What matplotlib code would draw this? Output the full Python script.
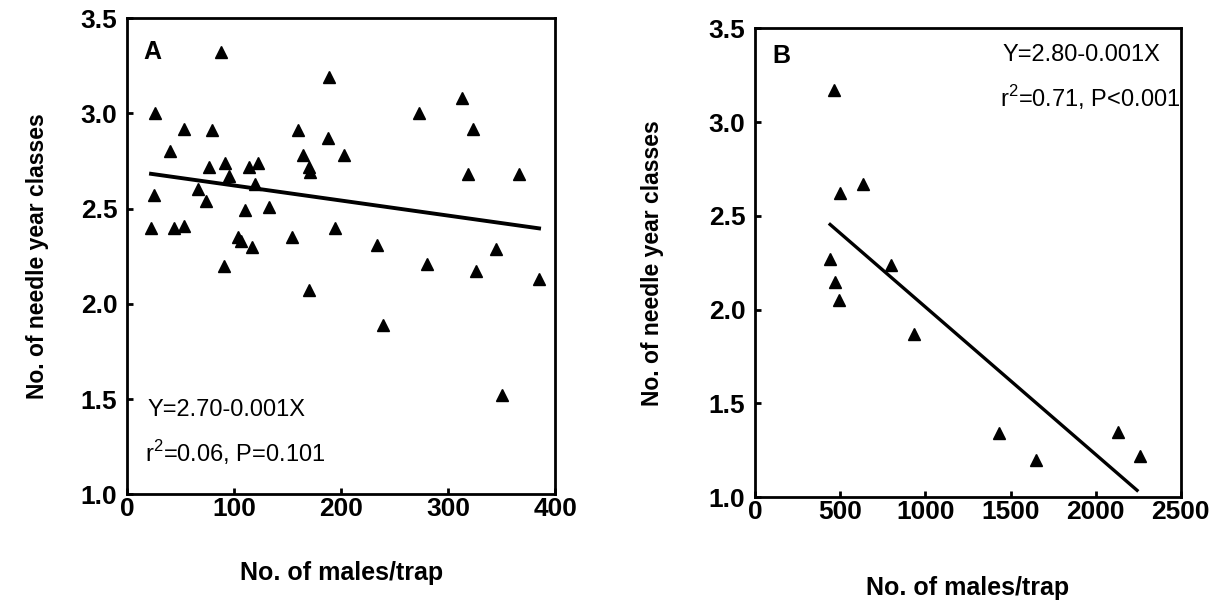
import numpy as np
import matplotlib
matplotlib.use("Agg")
import matplotlib.pyplot as plt

plt.rcParams['font.family'] = ['Liberation Sans', 'DejaVu Sans']
plt.rcParams['mathtext.fontset'] = 'custom'
plt.rcParams['mathtext.rm'] = 'Liberation Sans'

# panel A: males/trap vs needle year classes
a_x = [87.6, 188.8, 26.2, 53.3, 79.2, 160.1, 188.1, 40.2, 164.8, 203.1,
       76.9, 91.6, 114.3, 122.1, 170.1, 171.0, 95.6, 119.6, 25.2, 66.1,
       73.6, 133.0, 110.3, 22.4, 44.2, 53.6, 194.4, 104.0, 106.5, 116.5,
       154.5, 233.9, 90.9, 170.1, 239.3, 313.4, 272.9, 323.1, 318.4, 366.1,
       344.9, 280.1, 326.2, 385.0, 350.5]
a_y = [3.32, 3.19, 3.00, 2.92, 2.91, 2.91, 2.87, 2.80, 2.78, 2.78,
       2.72, 2.74, 2.72, 2.74, 2.72, 2.69, 2.67, 2.63, 2.57, 2.60,
       2.54, 2.51, 2.49, 2.40, 2.40, 2.41, 2.40, 2.35, 2.33, 2.30,
       2.35, 2.31, 2.20, 2.07, 1.89, 3.08, 3.00, 2.92, 2.68, 2.68,
       2.29, 2.21, 2.17, 2.13, 1.52]
a_fit = (2.70, -0.00079)   # intercept, slope as drawn

# panel B
b_x = [464, 499, 632, 440, 800, 471, 491, 933, 1432, 1647, 2133, 2259]
b_y = [3.17, 2.62, 2.67, 2.27, 2.24, 2.15, 2.05, 1.87, 1.34, 1.20, 1.35, 1.22]
b_fit = (2.80, -0.000786)

a_xticks = [0, 100, 200, 300, 400]
b_xticks = [0, 500, 1000, 1500, 2000, 2500]
yticks = [1.0, 1.5, 2.0, 2.5, 3.0, 3.5]

fig = plt.figure(figsize=(12.3, 6.02), dpi=100)
axA = fig.add_axes([0.1033, 0.179, 0.348, 0.791])
axB = fig.add_axes([0.614, 0.174, 0.346, 0.779])


def style(ax, xlim, xticks, lab_y, ylab_x):
    ax.set_xlim(*xlim)
    ax.set_ylim(1.0, 3.5)
    ax.set_xticks(xticks)
    ax.set_yticks(yticks)
    ax.set_yticklabels([f'{t:.1f}' for t in yticks])
    for s in ax.spines.values():
        s.set_linewidth(2.0)
    ax.tick_params(direction='in', length=4, width=2, labelsize=19)
    ax.tick_params(axis='y', pad=7)
    ax.tick_params(axis='x', pad=2)
    for lab in ax.get_xticklabels() + ax.get_yticklabels():
        lab.set_fontweight('bold')
    ax.set_xlabel('No. of males/trap', fontsize=18, fontweight='bold')
    ax.set_ylabel('No. of needle year classes', fontsize=16.5,
                  fontweight='bold', va='center')
    ax.xaxis.set_label_coords(0.5, lab_y)
    ax.yaxis.set_label_coords(ylab_x, 0.5)


# A
axA.plot(a_x, a_y, '^', color='black', markersize=8.5, linestyle='None')
xs = np.array([min(a_x), max(a_x)])
axA.plot(xs, a_fit[0] + a_fit[1] * xs, color='black', lw=2.8)
style(axA, (0, 400), a_xticks, -0.141, -0.21)
axA.text(0.037, 0.929, 'A', transform=axA.transAxes, fontsize=18,
         fontweight='bold', va='center')
axA.text(0.047, 0.176, 'Y=2.70-0.001X', transform=axA.transAxes,
         fontsize=17, va='center')
axA.text(0.042, 0.088, r'r$^{\mathregular{2}}$=0.06, P=0.101',
         transform=axA.transAxes, fontsize=17, va='center')

# B
axB.plot(b_x, b_y, '^', color='black', markersize=8.5, linestyle='None')
xs = np.array([min(b_x), 2243])
axB.plot(xs, b_fit[0] + b_fit[1] * xs, color='black', lw=2.4)
style(axB, (0, 2500), b_xticks, -0.168, -0.242)
axB.text(0.04, 0.94, 'B', transform=axB.transAxes, fontsize=18,
         fontweight='bold', va='center')
axB.text(0.58, 0.942, 'Y=2.80-0.001X', transform=axB.transAxes,
         fontsize=17, va='center')
axB.text(0.575, 0.853, r'r$^{\mathregular{2}}$=0.71, P<0.001',
         transform=axB.transAxes, fontsize=17, va='center')

fig.savefig('out.png', dpi=100)
